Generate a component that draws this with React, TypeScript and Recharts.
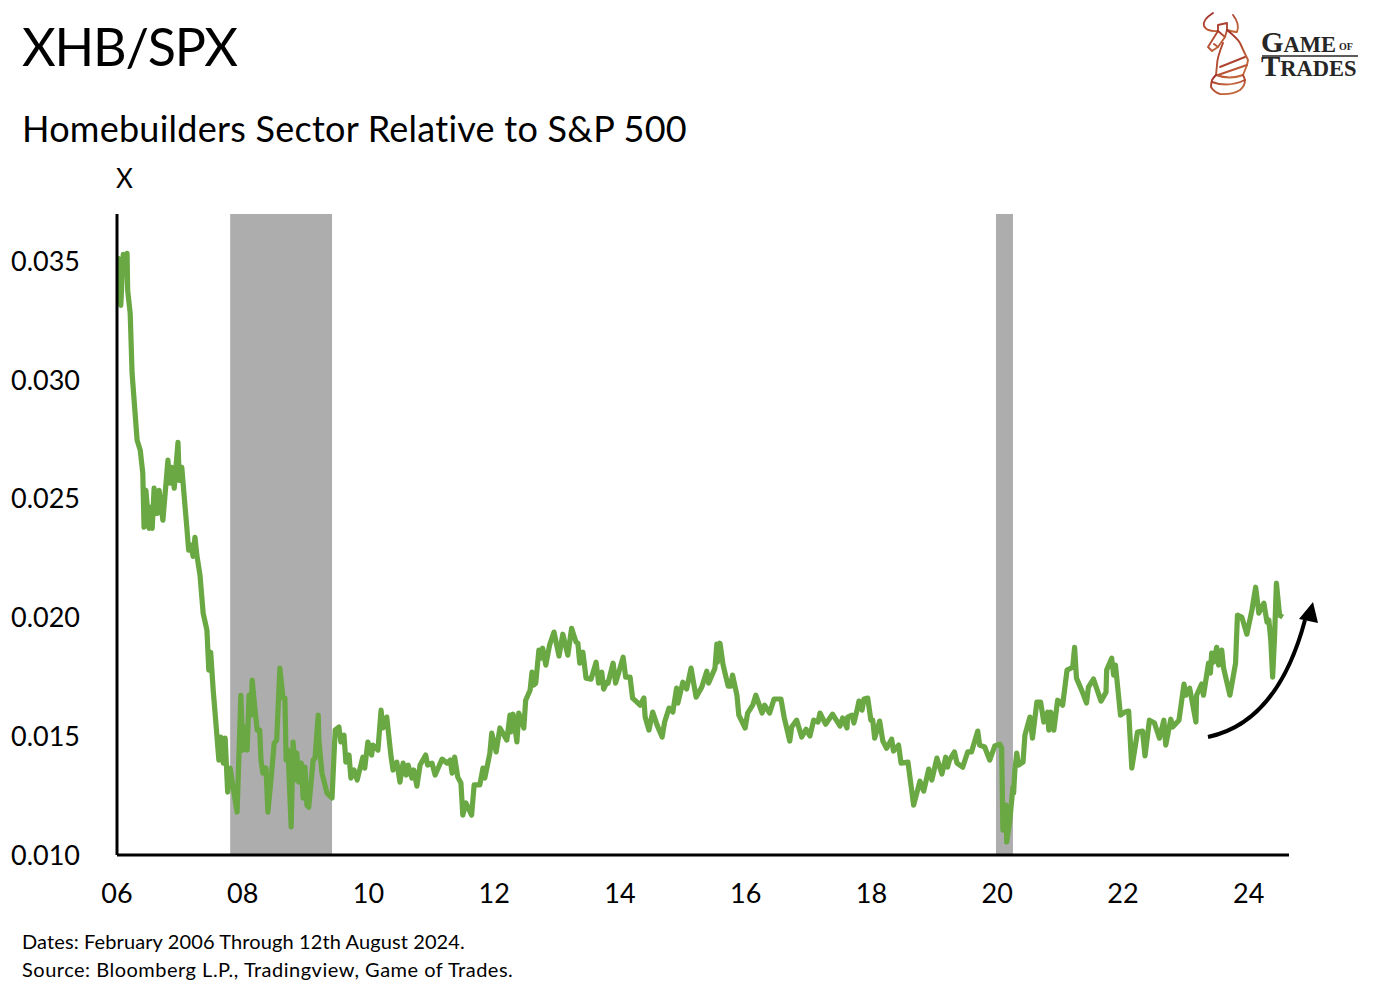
import { LineChart, Line, XAxis, YAxis, ReferenceArea } from "recharts";

const FONT = "Lato, sans-serif";
const GREEN = "#69a842";

// decimal years since 2000
const years = [
  6.0, 6.02, 6.06, 6.1, 6.11, 6.16, 6.17, 6.21, 6.24, 6.32,
  6.37, 6.41, 6.43, 6.46, 6.51, 6.54, 6.56, 6.59, 6.64, 6.67,
  6.73, 6.81, 6.84, 6.87, 6.91, 6.97, 6.99, 7.03, 7.11, 7.14,
  7.18, 7.21, 7.24, 7.27, 7.32, 7.37, 7.43, 7.46, 7.49, 7.53,
  7.56, 7.62, 7.65, 7.69, 7.72, 7.76, 7.8, 7.84, 7.91, 7.97,
  8.0, 8.04, 8.07, 8.1, 8.13, 8.15, 8.19, 8.23, 8.27, 8.29,
  8.32, 8.37, 8.4, 8.46, 8.5, 8.54, 8.59, 8.64, 8.67, 8.69,
  8.72, 8.77, 8.8, 8.85, 8.86, 8.89, 8.93, 8.96, 8.99, 9.02,
  9.05, 9.12, 9.15, 9.2, 9.21, 9.26, 9.34, 9.42, 9.47, 9.53,
  9.56, 9.61, 9.64, 9.69, 9.72, 9.77, 9.82, 9.91, 9.94, 9.99,
  10.05, 10.07, 10.15, 10.2, 10.23, 10.29, 10.36, 10.39, 10.45, 10.5,
  10.55, 10.6, 10.63, 10.69, 10.72, 10.77, 10.82, 10.91, 10.94, 11.01,
  11.06, 11.17, 11.25, 11.3, 11.33, 11.37, 11.42, 11.47, 11.5, 11.55,
  11.64, 11.68, 11.77, 11.82, 11.85, 11.93, 11.96, 12.03, 12.09, 12.2,
  12.25, 12.26, 12.3, 12.36, 12.39, 12.47, 12.5, 12.57, 12.6, 12.63,
  12.66, 12.71, 12.74, 12.77, 12.82, 12.88, 12.95, 13.03, 13.09, 13.17,
  13.23, 13.3, 13.33, 13.36, 13.41, 13.46, 13.54, 13.62, 13.66, 13.71,
  13.74, 13.79, 13.81, 13.89, 13.93, 14.05, 14.09, 14.16, 14.2, 14.27,
  14.32, 14.38, 14.4, 14.46, 14.52, 14.59, 14.67, 14.71, 14.78, 14.84,
  14.9, 14.92, 15.0, 15.06, 15.13, 15.21, 15.3, 15.38, 15.41, 15.51,
  15.54, 15.55, 15.59, 15.64, 15.72, 15.76, 15.79, 15.86, 15.89, 15.99,
  16.03, 16.11, 16.16, 16.26, 16.3, 16.38, 16.45, 16.56, 16.61, 16.7,
  16.73, 16.81, 16.89, 16.96, 17.02, 17.08, 17.15, 17.18, 17.27, 17.38,
  17.5, 17.54, 17.61, 17.62, 17.69, 17.72, 17.77, 17.8, 17.85, 17.88,
  17.94, 17.99, 18.02, 18.05, 18.13, 18.18, 18.24, 18.32, 18.35, 18.43,
  18.47, 18.58, 18.67, 18.72, 18.77, 18.83, 18.91, 18.96, 19.04, 19.12,
  19.18, 19.21, 19.24, 19.32, 19.36, 19.45, 19.53, 19.59, 19.69, 19.72,
  19.8, 19.88, 19.96, 20.04, 20.07, 20.09, 20.14, 20.15, 20.2, 20.25,
  20.26, 20.28, 20.31, 20.34, 20.41, 20.44, 20.52, 20.56, 20.63, 20.69,
  20.74, 20.8, 20.82, 20.85, 20.9, 20.96, 21.04, 21.11, 21.2, 21.23,
  21.26, 21.36, 21.42, 21.45, 21.53, 21.65, 21.73, 21.74, 21.82, 21.85,
  21.88, 21.96, 22.03, 22.09, 22.14, 22.23, 22.31, 22.35, 22.42, 22.5,
  22.58, 22.65, 22.68, 22.76, 22.79, 22.89, 22.97, 23.0, 23.06, 23.16,
  23.17, 23.25, 23.28, 23.36, 23.39, 23.41, 23.44, 23.49, 23.52, 23.57,
  23.6, 23.7, 23.79, 23.82, 23.89, 23.97, 24.05, 24.11, 24.16, 24.24,
  24.29, 24.32, 24.35, 24.38, 24.41, 24.44, 24.49, 24.54,
];

const ratio = [
  0.0345, 0.03513, 0.03315, 0.0353, 0.03462, 0.03534, 0.03378, 0.03281, 0.03029, 0.02747,
  0.02705, 0.02608, 0.02381, 0.02536, 0.02376, 0.02465, 0.02376, 0.02545, 0.02439, 0.02536,
  0.0241, 0.02663, 0.02566, 0.02633, 0.02545, 0.02738, 0.02578, 0.02633, 0.02381, 0.02284,
  0.02305, 0.02258, 0.02338, 0.02263, 0.02179, 0.02019, 0.01947, 0.01779, 0.01854, 0.01694,
  0.01598, 0.014, 0.01497, 0.01387, 0.01492, 0.01265, 0.01366, 0.01295, 0.01181, 0.01673,
  0.01442, 0.01539, 0.01442, 0.01673, 0.01589, 0.01737, 0.01623, 0.01526, 0.01526, 0.014,
  0.01345, 0.01366, 0.01181, 0.01349, 0.01471, 0.01484, 0.01787, 0.01661, 0.01661, 0.014,
  0.01442, 0.01118, 0.01476, 0.01316, 0.01429, 0.01307, 0.01387, 0.0124, 0.0137, 0.0121,
  0.01202, 0.014, 0.01408, 0.01589, 0.01484, 0.01345, 0.01261, 0.0124, 0.01526, 0.01539,
  0.01476, 0.01505, 0.01391, 0.01421, 0.01324, 0.01358, 0.01316, 0.01412, 0.01366, 0.01476,
  0.01421, 0.01463, 0.01442, 0.0161, 0.01535, 0.01581, 0.01412, 0.01358, 0.01391, 0.01307,
  0.01387, 0.01337, 0.01379, 0.01324, 0.01358, 0.0129, 0.01379, 0.01421, 0.01379, 0.01387,
  0.01337, 0.01404, 0.01387, 0.014, 0.01345, 0.01412, 0.01328, 0.01303, 0.01168, 0.01219,
  0.01168, 0.01295, 0.01295, 0.01366, 0.01324, 0.01429, 0.01513, 0.01434, 0.01535, 0.01484,
  0.01589, 0.01518, 0.01593, 0.01476, 0.01598, 0.01535, 0.01652, 0.01694, 0.0177, 0.01716,
  0.01724, 0.01863, 0.01829, 0.01871, 0.018, 0.01884, 0.01939, 0.01838, 0.0193, 0.01842,
  0.01955, 0.01897, 0.01892, 0.01808, 0.01854, 0.01745, 0.01741, 0.01812, 0.01724, 0.0177,
  0.01699, 0.01728, 0.01724, 0.01808, 0.01724, 0.01833, 0.01749, 0.01749, 0.01661, 0.01644,
  0.01631, 0.01661, 0.01581, 0.01526, 0.01602, 0.01547, 0.01497, 0.0156, 0.01619, 0.01602,
  0.01703, 0.0164, 0.01728, 0.01699, 0.01787, 0.01665, 0.01707, 0.01774, 0.01724, 0.01787,
  0.01888, 0.01812, 0.01892, 0.018, 0.01711, 0.01711, 0.01758, 0.01673, 0.01589, 0.01535,
  0.01598, 0.01631, 0.01673, 0.01598, 0.01631, 0.01598, 0.01657, 0.01657, 0.01581, 0.0148,
  0.01539, 0.01568, 0.01497, 0.0153, 0.01501, 0.01568, 0.0156, 0.01598, 0.01551, 0.01593,
  0.01543, 0.01577, 0.01535, 0.01581, 0.01589, 0.01556, 0.0161, 0.01648, 0.0161, 0.01657,
  0.01661, 0.01568, 0.01568, 0.01492, 0.01564, 0.0148, 0.0145, 0.01488, 0.01438, 0.01463,
  0.01387, 0.01391, 0.0121, 0.01261, 0.01311, 0.01269, 0.01362, 0.01316, 0.01408, 0.01341,
  0.01412, 0.0137, 0.014, 0.01434, 0.01387, 0.0137, 0.01434, 0.01434, 0.01522, 0.01463,
  0.01455, 0.014, 0.01459, 0.01467, 0.0145, 0.01105, 0.0121, 0.01055, 0.01147, 0.01286,
  0.01261, 0.01358, 0.01429, 0.01379, 0.01391, 0.01505, 0.01581, 0.01492, 0.01644, 0.01644,
  0.0156, 0.01602, 0.01526, 0.01602, 0.01526, 0.01652, 0.01631, 0.01779, 0.01791, 0.01875,
  0.01745, 0.01682, 0.0164, 0.01707, 0.01741, 0.01648, 0.01686, 0.01779, 0.01829, 0.01758,
  0.018, 0.01589, 0.01602, 0.01606, 0.01366, 0.01518, 0.01522, 0.01417, 0.01568, 0.01556,
  0.01492, 0.01568, 0.01463, 0.01572, 0.01539, 0.01568, 0.0172, 0.01673, 0.01703, 0.0156,
  0.01673, 0.0172, 0.01673, 0.01808, 0.01766, 0.0185, 0.01812, 0.01875, 0.018, 0.01863,
  0.01787, 0.01673, 0.01808, 0.0201, 0.02002, 0.0193, 0.02031, 0.02128, 0.02019, 0.02061,
  0.01981, 0.01989, 0.01905, 0.01749, 0.01918, 0.02145, 0.0201, 0.02002,
];

const xTicks = [6, 8, 10, 12, 14, 16, 18, 20, 22, 24];
const yTicks = [0.01, 0.015, 0.02, 0.025, 0.03, 0.035];
const recessions = [
  [7.8, 9.42],
  [19.98, 20.25],
];

const chartData = years.map((year, i) => ({ year, ratio: ratio[i] }));

const Logo = () => (
  <svg width={190} height={110} style={{ position: "absolute", left: 1190, top: 0 }}>
    <defs>
      <linearGradient id="bull" x1="0" y1="0" x2="0.6" y2="1">
        <stop offset="0%" stopColor="#9e2a28" />
        <stop offset="100%" stopColor="#c4683a" />
      </linearGradient>
    </defs>
    <g fill="none" stroke="url(#bull)" strokeWidth={1.9} strokeLinejoin="round" strokeLinecap="round">
      <path d="M23 13 Q12 20 14 26 Q17 32 28 31 M43 15 Q50 24 47 32 Q44 32 37 30" />
      <path d="M28 31 L28 25 L37 23 L37 30 L35 37 L28 47 L22 51 L18 47 L28 31" />
      <path d="M28 31 L35 37 M24 44 L28 47" />
      <path d="M37 30 Q47 38 50 43 Q54 52 58 60 L57 65 L53 75" />
      <path d="M33 43 Q27 58 27 65 L26 75" />
      <path d="M30 67 L55 57 M28 75 L57 65 M26 75 Q40 80 53 75" />
      <path d="M22 80 Q21 84 21 87 Q24 92 30 94 Q42 95 50 90 Q55 86 55 80 Q54 77 53 75 M22 80 Q24 77 26 75" />
      <path d="M22 82 Q38 88 55 80" />
    </g>
    <text fontFamily="Liberation Serif, serif" fontWeight={700} fill="#262626">
      <tspan x={71} y={52} fontSize={29}>G</tspan>
      <tspan fontSize={22.5}>AME</tspan>
      <tspan fontSize={10} dx={3} dy={-2}>OF</tspan>
      <tspan x={71} y={76} fontSize={29}>T</tspan>
      <tspan fontSize={22.5}>RADES</tspan>
    </text>
    <path d="M72 56 H168" stroke="#262626" strokeWidth={1.6} />
  </svg>
);

const Arrow = () => (
  <svg width={1380} height={1000} style={{ position: "absolute", left: 0, top: 0, pointerEvents: "none" }}>
    <path d="M1208 737 C1250 728 1285 695 1305 620" fill="none" stroke="#000" strokeWidth={4} />
    <path d="M1313 602 L1299 619 L1318 623 Z" fill="#000" />
  </svg>
);

const label = (left: number, top: number, fontSize: number, text: string, letterSpacing = 0) => (
  <div style={{ position: "absolute", left, top, fontSize, letterSpacing, lineHeight: 1, fontFamily: FONT, color: "#000", whiteSpace: "nowrap" }}>
    {text}
  </div>
);

export default function App() {
  return (
    <div style={{ position: "absolute", left: 0, top: 0, width: 1380, height: 1000, background: "#fff", overflow: "hidden" }}>
      {label(22, 20, 52, "XHB/SPX", -1.2)}
      {label(22, 110, 36, "Homebuilders Sector Relative to S&P 500", 0.25)}
      {label(116, 165, 26, "X")}
      {label(22, 931, 20, "Dates: February 2006 Through 12th August 2024.", 0.11)}
      {label(22, 959, 20, "Source: Bloomberg L.P., Tradingview, Game of Trades.", 0.5)}
      <Logo />
      <div style={{ position: "absolute", left: 0, top: 0 }}>
        <LineChart
          width={1380}
          height={1000}
          data={chartData}
          margin={{ top: 214, right: 91, bottom: 95, left: 0 }}
        >
          <XAxis
            dataKey="year"
            type="number"
            domain={[6, 24.64]}
            ticks={xTicks}
            tickFormatter={(v: number) => String(v).padStart(2, "0")}
            tick={{ fontSize: 27, fill: "#000", fontFamily: FONT }}
            tickLine={false}
            tickMargin={23}
            height={50}
            axisLine={{ stroke: "#000", strokeWidth: 3 }}
            allowDataOverflow
          />
          <YAxis
            type="number"
            domain={[0.01, 0.037]}
            ticks={yTicks}
            tickFormatter={(v: number) => v.toFixed(3)}
            tick={{ fontSize: 27, fill: "#000", fontFamily: FONT }}
            tickLine={false}
            tickMargin={31}
            width={117}
            axisLine={{ stroke: "#000", strokeWidth: 3 }}
            allowDataOverflow
          />
          {recessions.map(([from, to]) => (
            <ReferenceArea key={from} x1={from} x2={to} fill="#adadad" fillOpacity={1} stroke="none" ifOverflow="hidden" />
          ))}
          <Line
            dataKey="ratio"
            type="linear"
            stroke={GREEN}
            strokeWidth={5.2}
            strokeLinejoin="round"
            dot={false}
            isAnimationActive={false}
          />
        </LineChart>
      </div>
      <Arrow />
    </div>
  );
}
